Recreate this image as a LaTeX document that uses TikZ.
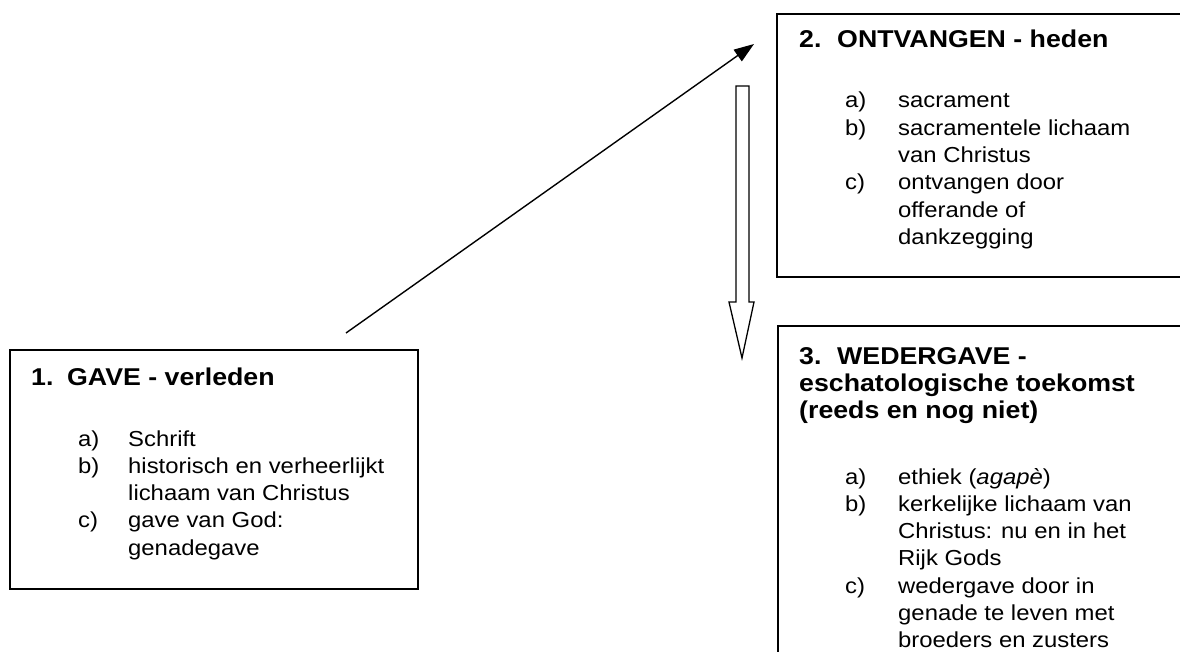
\documentclass[tikz,border=0pt]{standalone}
\usepackage{fontspec}
\setmainfont{Liberation Sans}[FakeStretch=1.1]
\usetikzlibrary{arrows.meta}
\tikzset{
  boxline/.style={line width=1.8pt, line join=miter},
  ttl/.style={anchor=base west, inner sep=0pt, font=\fontsize{24.3}{27}\selectfont\bfseries},
  itm/.style={anchor=base west, inner sep=0pt, font=\fontsize{21.7}{27.3}\selectfont},
  conn/.style={line width=1.4pt, -{Triangle[length=20pt,width=14pt]}},
  blockarrow/.style={line width=1.3pt, line join=miter, fill=white},
}
\begin{document}
\begin{tikzpicture}[x=1pt,y=-1pt]
\useasboundingbox (0,0) rectangle (1180,652);
% box 1
\draw[boxline] (10,350) rectangle (418,589);
\node[ttl] (n1) at (31,385) {1.};
\node[ttl] (t1) at (67,385) {GAVE - verleden};
\node[itm] (a1) at (78,446) {a)};
\node[itm] (a1t) at (128,446) {Schrift};
\node[itm] (b1) at (78,473.3) {b)};
\node[itm] (b1t) at (128,473.3) {historisch en verheerlijkt};
\node[itm] (b1u) at (128,500.6) {lichaam van Christus};
\node[itm] (c1) at (78,527.9) {c)};
\node[itm] (c1t) at (128,527.9) {gave van God:};
\node[itm] (c1u) at (128,555.2) {genadegave};
% box 2
\draw[boxline] (1181,14) -- (777,14) -- (777,277) -- (1181,277);
\node[ttl] (n2) at (799,48) {2.};
\node[ttl] (t2) at (837,48) {ONTVANGEN - heden};
\node[itm] (a2) at (845,108) {a)};
\node[itm] (a2t) at (898,108) {sacrament};
\node[itm] (b2) at (845,135.3) {b)};
\node[itm] (b2t) at (898,135.3) {sacramentele lichaam};
\node[itm] (b2u) at (898,162.6) {van Christus};
\node[itm] (c2) at (845,189.9) {c)};
\node[itm] (c2t) at (898,189.9) {ontvangen door};
\node[itm] (c2u) at (898,217.2) {offerande of};
\node[itm] (c2v) at (898,244.5) {dankzegging};
% box 3
\draw[boxline] (1181,326) -- (778,326) -- (778,653);
\node[ttl] (n3) at (799,364) {3.};
\node[ttl] (t3) at (837,364) {WEDERGAVE -};
\node[ttl] (t3b) at (799,391) {eschatologische toekomst};
\node[ttl] (t3c) at (799,418) {(reeds en nog niet)};
\node[itm] (a3) at (845,484) {a)};
\node[itm] (a3t) at (898,484) {ethiek (\textit{agapè})};
\node[itm] (b3) at (845,511.3) {b)};
\node[itm] (b3t) at (898,511.3) {kerkelijke lichaam van};
\node[itm] (b3u) at (898,538.6) {Christus: nu en in het};
\node[itm] (b3v) at (898,565.9) {Rijk Gods};
\node[itm] (c3) at (845,593.2) {c)};
\node[itm] (c3t) at (898,593.2) {wedergave door in};
\node[itm] (c3u) at (898,620.5) {genade te leven met};
\node[itm] (c3v) at (898,647.8) {broeders en zusters};
% connector from gave to ontvangen
\coordinate (s1) at (346,333);
\coordinate (e1) at (754,44);
\draw[conn] (s1) -- (e1);
% block arrow from ontvangen to wedergave
\draw[blockarrow] (736,86) -- (749,86) -- (749,302) -- (754,302) -- (742,358) -- (729,302) -- (736,302) -- cycle;
\end{tikzpicture}
\end{document}
